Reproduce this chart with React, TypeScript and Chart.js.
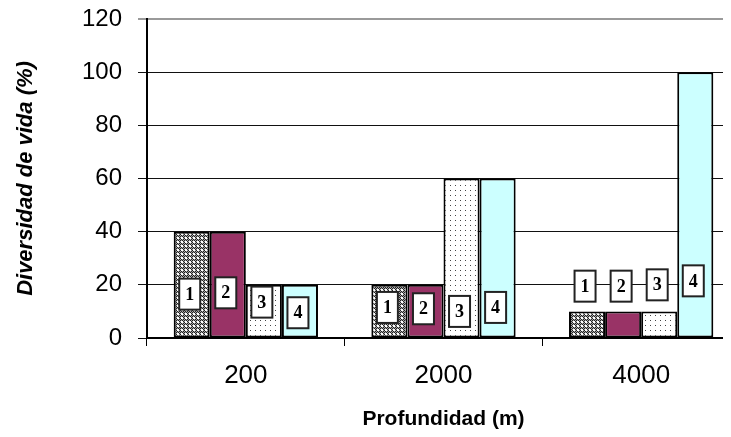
import { useEffect, useRef } from "react";
import { Chart, registerables } from "chart.js";
Chart.register(...registerables);

const categories = ["200", "2000", "4000"];
const serie1 = [40, 20, 10];
const serie2 = [40, 20, 10];
const serie3 = [20, 60, 10];
const serie4 = [20, 60, 100];
const seriesNames = ["1", "2", "3", "4"];
// vertical position (in % units) of each numbered label box
const labelPos1 = [16.5, 11.5, 19.5];
const labelPos2 = [17, 11, 19.5];
const labelPos3 = [13.5, 10, 20];
const labelPos4 = [9.5, 11.5, 21.5];
const yMin = 0;
const yMax = 120;
const yStep = 20;

function makePattern(kind: number): CanvasPattern | string {
  const c = document.createElement("canvas");
  const ctx = c.getContext("2d")!;
  if (kind === 1) {
    c.width = 4;
    c.height = 4;
    for (let x = 0; x < 4; x++) {
      for (let y = 0; y < 4; y++) {
        ctx.fillStyle = (x + y) % 2 === 0 ? "#222222" : "#a8a8a8";
        ctx.fillRect(x, y, 1, 1);
      }
    }
    ctx.fillStyle = "#ffffff";
    ctx.fillRect(1, 1, 2, 2);
  } else {
    c.width = 5;
    c.height = 5;
    ctx.fillStyle = "#ffffff";
    ctx.fillRect(0, 0, 5, 5);
    ctx.fillStyle = "#444444";
    ctx.fillRect(2, 2, 1, 1);
  }
  return ctx.createPattern(c, "repeat") || "#888";
}

const labelPlugin = {
  id: "boxLabels",
  afterDatasetsDraw(chart: any) {
    const ctx = chart.ctx as CanvasRenderingContext2D;
    const yScale = chart.scales.y;
    const all = [labelPos1, labelPos2, labelPos3, labelPos4];
    ctx.save();
    all.forEach((positions, i) => {
      const meta = chart.getDatasetMeta(i);
      positions.forEach((v, j) => {
        const bar = meta.data[j];
        if (!bar) return;
        const cx = bar.x - 2;
        const cy = yScale.getPixelForValue(v);
        const w = 21;
        const h = 31;
        ctx.fillStyle = "#ffffff";
        ctx.fillRect(cx - w / 2, cy - h / 2, w, h);
        ctx.strokeStyle = "#222222";
        ctx.lineWidth = 2;
        ctx.strokeRect(cx - w / 2, cy - h / 2, w, h);
        ctx.fillStyle = "#000000";
        ctx.font = "bold 18px 'Liberation Serif', serif";
        ctx.textAlign = "center";
        ctx.textBaseline = "middle";
        ctx.fillText(seriesNames[i], cx, cy + 1);
      });
    });
    ctx.restore();
  },
};

export default function App() {
  const ref = useRef<HTMLCanvasElement | null>(null);
  useEffect(() => {
    if (!ref.current) return;
    const p1 = makePattern(1);
    const p3 = makePattern(3);
    const chart = new Chart(ref.current, {
      type: "bar",
      data: {
        labels: categories,
        datasets: [
          { label: seriesNames[0], data: serie1, backgroundColor: p1 as any },
          { label: seriesNames[1], data: serie2, backgroundColor: "#993366" },
          { label: seriesNames[2], data: serie3, backgroundColor: p3 as any },
          { label: seriesNames[3], data: serie4, backgroundColor: "#ccffff" },
        ].map((d) => ({
          ...d,
          borderColor: "#000000",
          borderWidth: 2,
          borderSkipped: false,
          categoryPercentage: 0.73,
          barPercentage: 1,
        })),
      },
      options: {
        responsive: false,
        animation: false,
        layout: { padding: { left: 4, right: 8, top: 11, bottom: 0 } },
        plugins: {
          legend: { display: false },
          tooltip: { enabled: false },
        },
        scales: {
          x: {
            grid: {
              display: true,
              drawOnChartArea: false,
              drawTicks: true,
              tickLength: 8,
              color: "#000000",
              offset: true,
            },
            border: { color: "#000000", width: 2 },
            ticks: {
              color: "#000000",
              padding: 14,
              font: { family: "'Liberation Sans', Arial, sans-serif", size: 26 },
            },
            title: {
              display: true,
              text: "Profundidad (m)",
              color: "#000000",
              padding: { top: 0, bottom: -3 },
              font: { family: "'Liberation Sans', Arial, sans-serif", size: 21, weight: "bold" },
            },
            afterFit: (scale: any) => {
              scale.height = 91;
              scale.paddingLeft = 0;
              scale.paddingRight = 0;
            },
          },
          y: {
            min: yMin,
            max: yMax,
            grid: {
              color: (c: any) => (c.tick && c.tick.value === yMax ? "#9a9a9a" : "#111111"),
              lineWidth: (c: any) => (c.tick && c.tick.value === yMax ? 2 : 1),
              tickLength: 9,
              drawTicks: true,
            },
            border: { color: "#000000", width: 2 },
            ticks: {
              stepSize: yStep,
              color: "#000000",
              padding: 16,
              font: { family: "'Liberation Sans', Arial, sans-serif", size: 24 },
            },
            title: {
              display: true,
              text: "Diversidad de vida (%)",
              color: "#000000",
              padding: { top: 1, bottom: 0 },
              font: {
                family: "'Liberation Sans', Arial, sans-serif",
                size: 22,
                weight: "bold",
                style: "italic",
              },
            },
            afterFit: (scale: any) => {
              scale.width = 135;
              scale.paddingTop = 0;
              scale.paddingBottom = 0;
            },
          },
        },
      },
      plugins: [labelPlugin],
    });
    return () => chart.destroy();
  }, []);
  return (
    <div style={{ width: 723, height: 421, overflow: "hidden" }}>
      <canvas ref={ref} width={740} height={421} style={{ display: "block" }} />
    </div>
  );
}
